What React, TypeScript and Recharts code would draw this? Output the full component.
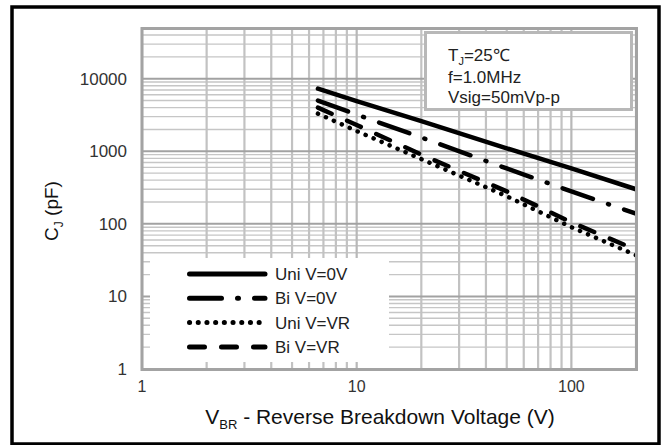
import React from 'react';
import { LineChart, Line, XAxis, YAxis, ReferenceLine } from 'recharts';

// breakdown voltage (V) where the curves were read
const vbr = [6.6, 10, 20, 50, 100, 200];
// junction capacitance (pF)
const uniV0 = [7300, 4900, 2600, 1100, 580, 300];
const biV0 = [5000, 3200, 1550, 580, 280, 138];
const uniVR = [3300, 1900, 780, 240, 90, 37];
const biVR = [4000, 2300, 900, 280, 105, 44];

const xTicks = [1, 10, 100];
const yTicks = [1, 10, 100, 1000, 10000];
const xMinor = [2, 3, 4, 5, 6, 7, 8, 9, 20, 30, 40, 50, 60, 70, 80, 90, 200];
const yMinor = [
  2, 3, 4, 5, 6, 7, 8, 9,
  20, 30, 40, 50, 60, 70, 80, 90,
  200, 300, 400, 500, 600, 700, 800, 900,
  2000, 3000, 4000, 5000, 6000, 7000, 8000, 9000,
  20000, 30000, 40000, 50000,
];

const rows = vbr.map((v, i) => ({
  vbr: v,
  uniV0: uniV0[i],
  biV0: biV0[i],
  uniVR: uniVR[i],
  biVR: biVR[i],
}));

const series = [
  { key: 'uniV0', name: 'Uni V=0V', dash: undefined },
  { key: 'biV0', name: 'Bi V=0V', dash: '32 16 1 16' },
  { key: 'uniVR', name: 'Uni V=VR', dash: '0.1 8.6' },
  { key: 'biVR', name: 'Bi V=VR', dash: '15 17' },
];

const font = '"Liberation Sans", Arial, Helvetica, sans-serif';

export default function App() {
  return (
    <div style={{ position: 'absolute', left: 0, top: 0, width: 663, height: 445, background: '#fff', fontFamily: font }}>
      <LineChart width={663} height={445} data={rows} margin={{ top: 28, right: 27, bottom: 46, left: 82 }}>
        <XAxis
          dataKey="vbr"
          type="number"
          scale="log"
          domain={[1, 200]}
          ticks={xTicks}
          interval={0}
          allowDataOverflow
          axisLine={false}
          tickLine={false}
          tickSize={0}
          tickMargin={12}
          height={30}
          tick={{ fill: '#333', fontSize: 16, fontFamily: font }}
        />
        <YAxis
          type="number"
          scale="log"
          domain={[1, 50000]}
          ticks={yTicks}
          interval={0}
          allowDataOverflow
          axisLine={false}
          tickLine={false}
          tickSize={0}
          tickMargin={15}
          width={60}
          tick={{ fill: '#333', fontSize: 17, fontFamily: font }}
        />
        {yMinor.map((v) => (
          <ReferenceLine key={'ym' + v} y={v} stroke="#c6c6c6" strokeWidth={1.4} />
        ))}
        {xMinor.map((v) => (
          <ReferenceLine key={'xm' + v} x={v} stroke="#c2c2c2" strokeWidth={2.2} />
        ))}
        {xTicks.map((v) => (
          <ReferenceLine key={'xM' + v} x={v} stroke="#b8b8b8" strokeWidth={2.2} />
        ))}
        {yTicks.map((v) => (
          <ReferenceLine key={'yM' + v} y={v} stroke="#a2a2a2" strokeWidth={2} />
        ))}
        {series.map((s) => (
          <Line
            key={s.key}
            dataKey={s.key}
            name={s.name}
            type="linear"
            stroke="#000"
            strokeWidth={4.5}
            strokeDasharray={s.dash}
            strokeLinecap="round"
            dot={false}
            activeDot={false}
            isAnimationActive={false}
          />
        ))}
      </LineChart>

      <svg width={663} height={445} style={{ position: 'absolute', left: 0, top: 0, pointerEvents: 'none' }} fontFamily={font}>
        {/* outer frame */}
        <rect x={12} y={7} width={647} height={437} fill="none" stroke="#000" strokeWidth={3.5} />
        {/* plot border */}
        <rect x={142} y={28.5} width={494.5} height={341} fill="none" stroke="#a3a3a3" strokeWidth={3} />

        {/* conditions box */}
        <rect x={425.5} y={32.5} width={206} height={77} fill="#fff" stroke="#b8b8b8" strokeWidth={3} />
        <text x={448} y={61} fontSize={17} fill="#222">
          T<tspan dy={4} fontSize={11}>J</tspan>
          <tspan dy={-4}>=25℃</tspan>
        </text>
        <text x={448} y={82.5} fontSize={17} fill="#222">f=1.0MHz</text>
        <text x={448} y={103} fontSize={17} fill="#222">Vsig=50mVp-p</text>

        {/* legend */}
        <rect x={150} y={258} width={239} height={104} fill="#fff" />
        {series.map((s, i) => {
          const y = 274 + i * 24.3;
          return (
            <g key={s.key}>
              <line
                x1={189.5}
                x2={265}
                y1={y}
                y2={y}
                stroke="#000"
                strokeWidth={5}
                strokeLinecap="round"
                strokeDasharray={s.dash}
              />
              <text x={275} y={y + 6} fontSize={17} fill="#222">{s.name}</text>
            </g>
          );
        })}

        {/* axis titles */}
        <text transform="translate(58,211) rotate(-90)" textAnchor="middle" fontSize={19} fill="#111">
          C<tspan dy={5} fontSize={12}>J</tspan>
          <tspan dy={-5}>{' (pF)'}</tspan>
        </text>
        <text x={380} y={424} textAnchor="middle" fontSize={21} fill="#111">
          V<tspan dy={5} fontSize={13}>BR</tspan>
          <tspan dy={-5}>{' - Reverse Breakdown Voltage (V)'}</tspan>
        </text>
      </svg>
    </div>
  );
}
